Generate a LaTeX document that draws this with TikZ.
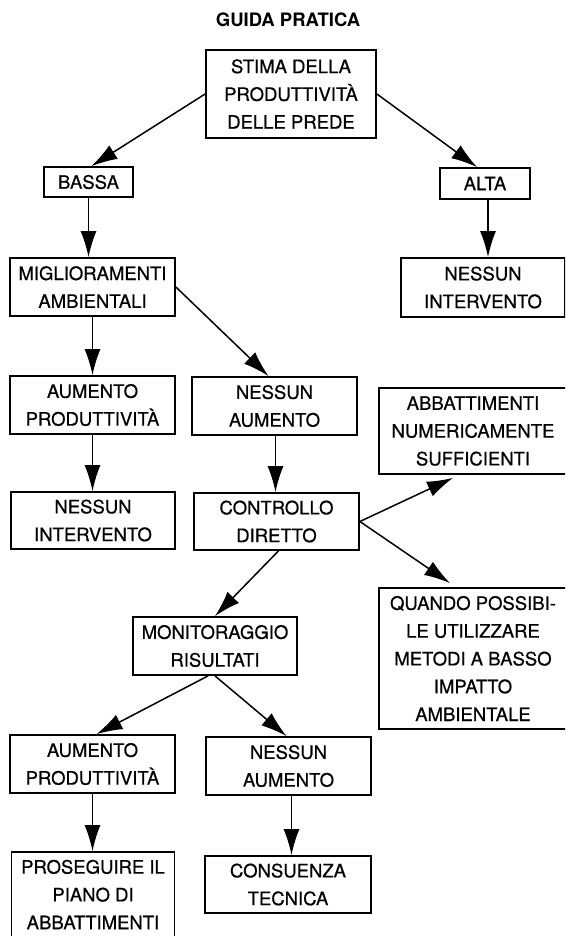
\documentclass[tikz,border=0pt]{standalone}
\usepackage{fontspec}
\setmainfont{TeX Gyre Heros}
\newfontfamily\boxfont[RawFeature={embolden=0.6}]{TeX Gyre Heros}
\usetikzlibrary{arrows.meta, positioning, calc}
\tikzset{
  BOX/.style={% Style for the framed boxes
      rectangle, line width=1.8pt,
      align=center,
      inner sep=0pt,
      font=\boxfont\fontsize{18.5}{27.8}\selectfont,
      draw=black,
  },
  ARR/.style={% Style for the arrows
      line width=1.5pt,
      -{Latex[length=26pt,width=16pt]},
  }
}

\begin{document}
\begin{tikzpicture}[x=1pt,y=-1pt]
    \path[use as bounding box, clip] (0,0) rectangle (565,936); % page size
    \node[font=\bfseries\fontsize{18.5}{28}\selectfont] (title) at (288,20) {GUIDA PRATICA};
    % first level
    \node[BOX, minimum width=170pt, minimum height=88pt] (stima) at (291,94) {STIMA DELLA\\PRODUTTIVITÀ\\DELLE PREDE};
    \node[BOX, minimum width=89pt, minimum height=30pt] (bassa) at (88.5,182) {BASSA};
    \node[BOX, minimum width=90pt, minimum height=31pt] (alta) at (485,183.5) {ALTA};
    \node[BOX, minimum width=165pt, minimum height=58pt] (migl) at (92.5,287) {MIGLIORAMENTI\\AMBIENTALI};
    \node[BOX, minimum width=164pt, minimum height=59pt] (nessunR) at (483,287.5) {NESSUN\\INTERVENTO};
    % second level
    \node[BOX, minimum width=165pt, minimum height=58pt] (aumentoA) at (92.5,405) {AUMENTO\\PRODUTTIVITÀ};
    \node[BOX, minimum width=165pt, minimum height=58pt] (nessunA) at (274.5,406) {NESSUN\\AUMENTO};
    \node[BOX, minimum width=188pt, minimum height=86pt] (abbatt) at (473,431) {ABBATTIMENTI\\NUMERICAMENTE\\SUFFICIENTI};
    \node[BOX, minimum width=164pt, minimum height=57pt] (nessunI) at (93,520.5) {NESSUN\\INTERVENTO};
    \node[BOX, minimum width=165pt, minimum height=57pt] (controllo) at (276.5,521.5) {CONTROLLO\\DIRETTO};
    \node[BOX, minimum width=188pt, minimum height=141pt] (quando) at (473,658.5) {QUANDO POSSIBI-\\LE UTILIZZARE\\METODI A BASSO\\IMPATTO\\AMBIENTALE};
    % third level
    \node[BOX, minimum width=164pt, minimum height=58pt] (monit) at (215,646) {MONITORAGGIO\\RISULTATI};
    \node[BOX, minimum width=165pt, minimum height=58pt] (aumentoB) at (92.5,764) {AUMENTO\\PRODUTTIVITÀ};
    \node[BOX, minimum width=165pt, minimum height=58pt] (nessunB) at (288.5,766) {NESSUN\\AUMENTO};
    \node[BOX, minimum width=163pt, minimum height=85pt] (prosegui) at (93,894.5) {PROSEGUIRE IL\\PIANO DI\\ABBATTIMENTI};
    \node[BOX, minimum width=166pt, minimum height=57pt] (consuenza) at (288,884.5) {CONSUENZA\\TECNICA};
    % arrows
    \draw[ARR] (stima.west) -- ([xshift=3pt]bassa.north);
    \draw[ARR] (stima.east) -- ([xshift=-8pt]alta.north);
    \draw[ARR] (bassa.south) -- (bassa.south |- migl.north);
    \draw[ARR] ([xshift=3pt]alta.south) -- ([xshift=3pt]alta.south |- nessunR.north);
    \draw[ARR] (migl.south) -- (migl.south |- aumentoA.north);
    \draw[ARR] (migl.east) -- ([xshift=-6pt]nessunA.north);
    \draw[ARR] (aumentoA.south) -- (aumentoA.south |- nessunI.north);
    \draw[ARR] ([xshift=1pt]nessunA.south) -- ([xshift=1pt]nessunA.south |- controllo.north);
    \draw[ARR] (controllo.east) -- ([xshift=-20pt,yshift=-3pt]abbatt.south);
    \draw[ARR] (controllo.east) -- ([xshift=-23pt,yshift=4pt]quando.north);
    \draw[ARR] ([xshift=2pt]controllo.south) -- (monit.north);
    \draw[ARR] ([xshift=-7pt]monit.south) -- ([xshift=4pt]aumentoB.north);
    \draw[ARR] (monit.south) -- ([xshift=-2pt]nessunB.north);
    \draw[ARR] (aumentoB.south) -- (aumentoB.south |- prosegui.north);
    \draw[ARR] ([xshift=3pt]nessunB.south) -- ([xshift=3pt]nessunB.south |- consuenza.north);
\end{tikzpicture}
\end{document}
